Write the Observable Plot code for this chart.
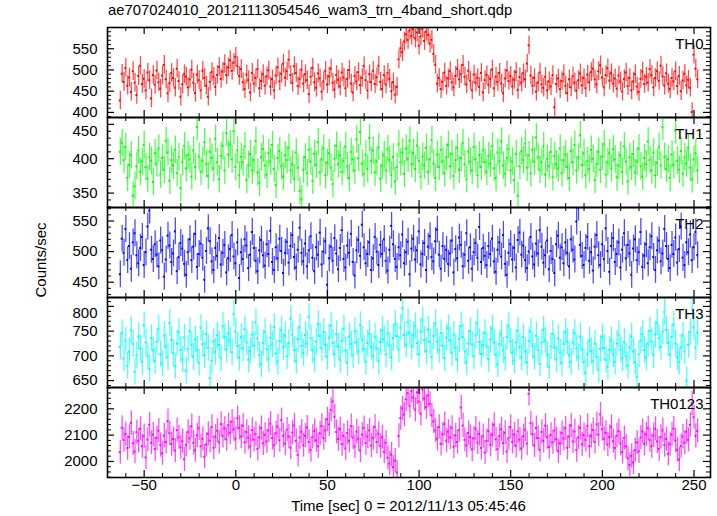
<!DOCTYPE html>
<html><head><meta charset="utf-8">
<script src="https://cdn.jsdelivr.net/npm/d3@7"></script>
<script src="https://cdn.jsdelivr.net/npm/@observablehq/plot@0.6"></script>
<style>
body{margin:0;background:#fff;}
#chart{position:relative;width:717px;height:516px;overflow:hidden;font-family:"Liberation Sans",Arial,Helvetica,sans-serif;color:#000;}
#chart .title{position:absolute;left:108px;top:2px;font-size:14.8px;white-space:nowrap;}
#chart .xlab{position:absolute;left:107px;width:603px;top:497px;text-align:center;font-size:15px;white-space:nowrap;}
#chart .ylab{position:absolute;left:40px;top:260px;font-size:15px;white-space:nowrap;transform:translate(-50%,-50%) rotate(-90deg);}
#chart svg{position:absolute;left:0;}
</style></head><body><div id="chart"></div>
<script>
const title = "ae707024010_20121113054546_wam3_trn_4band_short.qdp";
const xLabel = "Time [sec] 0 = 2012/11/13 05:45:46";
const yLabel = "Counts/sec";
const panelNames = ["TH0", "TH1", "TH2", "TH3", "TH0123"];
const t0 = -63;      // centre of first 1-s bin
const binWidth = 1;  // seconds

const th0 = [
428,491,472,505,463,482,448,497,470,441,486,510,467,479,452,494,476,433,488,465,
499,471,456,487,512,478,445,469,493,481,458,503,474,437,466,490,484,459,478,501,
470,446,489,476,452,498,481,463,437,472,495,484,460,488,507,479,496,514,488,506,
523,498,517,531,509,486,502,471,455,489,476,447,493,468,481,502,457,474,490,463,
485,499,461,478,452,487,506,473,491,515,482,497,524,488,470,509,493,462,479,501,
468,490,476,443,484,505,471,458,492,480,449,473,498,466,485,503,470,454,488,477,
461,494,482,457,479,500,468,447,486,473,495,464,481,509,476,452,490,471,498,467,
483,510,472,455,488,466,493,479,450,471,442,460,525,551,542,567,584,571,593,580,
596,574,588,557,579,597,568,590,583,562,571,538,512,468,481,455,472,494,463,480,
497,471,459,486,503,478,490,512,484,466,498,475,452,489,470,481,460,493,447,476,
488,465,479,501,457,484,472,493,468,445,480,499,474,486,461,477,495,453,483,470,
492,478,515,558,487,463,481,449,470,494,466,458,484,452,473,461,488,412,467,480,
455,474,490,463,446,478,459,485,470,451,476,492,464,481,457,489,471,495,503,478,
466,497,511,482,459,488,504,475,492,468,480,456,487,473,449,478,494,462,481,452,
473,490,461,448,479,496,467,484,470,502,488,459,481,497,474,510,485,463,492,468,
455,481,473,497,462,486,450,475,491,464,477,458,401,536,503,478];

const th1 = [
410,423,398,417,372,391,405,346,360,389,412,381,396,420,388,371,402,397,366,408,
393,415,377,401,384,426,409,368,398,390,413,379,402,357,395,418,386,405,399,374,
412,388,446,403,381,397,424,392,375,410,401,386,429,395,370,404,419,383,437,406,
421,399,440,388,412,376,403,395,418,369,391,407,383,398,426,380,365,402,414,390,
377,408,396,420,385,362,401,411,389,374,405,398,416,383,392,371,409,387,353,341,
384,402,379,413,396,368,407,391,424,380,399,415,376,394,408,387,363,400,419,392,
405,381,397,418,389,372,410,399,383,428,401,439,393,378,406,385,430,397,412,380,
396,417,371,390,405,383,414,398,376,402,367,388,421,395,409,378,415,400,426,392,
408,385,419,397,374,403,390,416,381,399,427,393,372,406,388,413,396,379,402,420,
389,407,375,398,416,384,401,423,392,370,410,396,383,417,399,376,405,388,412,395,
381,404,393,418,386,372,409,397,425,390,378,401,414,383,396,369,407,346,389,411,
398,422,387,405,379,413,396,431,402,384,395,418,377,400,389,410,373,404,392,386,
415,379,398,406,388,372,411,395,420,383,402,434,391,408,376,397,385,413,400,369,
392,410,384,403,421,377,395,408,386,414,399,373,390,405,381,418,396,367,402,388,
407,380,396,415,389,374,401,392,425,398,383,409,376,394,417,390,446,403,385,399,
372,406,391,441,397,384,411,378,402,393,416,387,370,399,408,383];

const th2 = [
463,521,498,537,486,509,472,515,530,494,481,506,524,478,499,541,567,503,488,512,
495,476,518,502,459,487,526,510,483,497,533,468,491,514,505,480,462,499,520,486,
508,529,475,496,513,490,454,501,538,517,484,470,506,493,522,479,498,511,466,489,
504,527,492,481,515,457,499,488,520,510,473,495,532,506,485,468,502,519,494,477,
512,496,534,483,470,507,489,521,501,465,498,516,482,509,527,491,474,503,539,498,
484,513,476,502,525,490,468,507,495,531,479,500,517,446,489,508,485,522,497,471,
506,535,488,474,510,498,529,483,461,502,519,493,544,507,481,496,515,470,489,524,
500,478,511,496,520,485,469,503,542,512,488,475,507,494,528,481,499,516,463,505,
521,487,502,533,479,496,514,470,508,525,491,484,517,536,495,472,509,488,503,480,
497,518,466,504,489,523,511,476,495,530,485,507,472,499,514,490,540,483,506,493,
478,509,496,521,484,467,503,515,492,527,480,462,498,512,487,506,474,519,531,495,
510,486,473,500,524,492,479,513,497,535,508,482,494,518,471,501,488,465,512,526,
490,507,481,515,498,476,520,503,487,549,572,511,493,478,506,524,485,499,469,508,
527,494,478,512,488,538,501,467,509,522,483,496,515,474,503,530,489,511,497,462,
505,520,486,499,532,475,493,512,481,507,525,491,470,502,518,484,497,537,509,488,
473,511,496,523,482,504,541,490,478,515,499,528,486,507,532,494];

const th3 = [
718,746,695,731,680,709,752,724,668,701,739,715,688,762,727,699,674,736,711,690,
728,755,703,684,741,719,697,766,732,706,679,725,748,712,693,737,670,714,750,722,
698,733,712,686,757,724,701,744,716,655,690,729,708,741,722,695,760,738,713,745,
731,707,785,749,720,696,738,715,754,727,692,710,743,721,768,735,702,683,726,748,
714,694,737,723,758,705,689,730,752,718,741,699,726,775,743,712,690,734,757,720,
706,742,725,779,736,711,693,729,764,740,715,748,722,698,737,761,726,703,744,719,
692,730,755,711,686,739,724,701,750,727,709,762,733,714,688,726,745,718,700,738,
715,689,728,752,734,703,745,721,697,736,764,740,713,757,796,742,723,768,747,719,
741,760,726,703,749,772,732,710,753,728,698,740,766,729,712,746,720,695,737,756,
731,706,743,716,692,734,761,738,709,687,725,750,723,699,741,767,728,704,722,746,
719,693,733,755,727,702,683,724,744,711,696,738,760,729,707,690,727,751,718,697,
738,709,687,730,749,720,698,741,712,684,727,753,731,702,678,719,744,716,693,735,
707,686,724,748,729,701,688,727,746,715,697,739,713,687,665,703,731,710,689,725,
698,672,714,738,716,692,678,712,731,703,688,725,743,713,695,728,699,680,717,739,
709,687,658,703,731,744,712,697,725,751,729,702,743,767,736,718,749,789,753,726,
702,738,763,725,697,688,717,741,709,650,722,748,816,758,717,747];

const th0123 = [
2035,2128,2082,2104,2051,2093,2146,2069,2037,2111,2078,2124,2058,2096,2015,2083,2139,2071,2102,2047,
2089,2117,2062,2031,2098,2074,2153,2107,2066,2085,2041,2119,2092,2054,2077,2008,2063,2112,2088,2134,
2071,2043,2099,2126,2058,2086,2018,2064,2105,2079,2131,2052,2094,2117,2073,2142,2097,2125,2084,2138,
2109,2151,2122,2087,2164,2128,2095,2136,2073,2112,2090,2057,2119,2083,2104,2048,2092,2127,2069,2101,
2076,2118,2143,2089,2061,2107,2132,2081,2157,2099,2068,2121,2094,2052,2110,2137,2078,2025,2091,2113,
2062,2098,2129,2074,2044,2093,2116,2081,2058,2107,2135,2089,2118,2160,2141,2196,2228,2170,2112,2085,
2123,2066,2097,2049,2108,2079,2134,2091,2057,2113,2086,2042,2102,2127,2070,2095,2118,2061,2089,2131,
2074,2105,2058,2092,2037,2071,2014,1992,2026,1978,2003,1958,2097,2165,2202,2178,2236,2259,2211,2268,
2243,2197,2262,2228,2181,2273,2239,2206,2251,2219,2175,2152,2118,2086,2131,2067,2104,2142,2079,2113,
2091,2128,2056,2099,2074,2119,2205,2137,2082,2061,2108,2093,2046,2087,2125,2072,2104,2051,2096,2034,
2078,2116,2063,2101,2139,2084,2047,2097,2122,2070,2109,2038,2088,2131,2075,2102,2059,2114,2083,2049,
2096,2121,2068,2257,2145,2103,2061,2127,2089,2044,2112,2078,2136,2092,2055,2101,2073,2118,2084,2039,
2069,2108,2087,2126,2052,2095,2137,2076,2114,2043,2091,2128,2065,2100,2082,2135,2058,2097,2119,2074,
2141,2102,2178,2123,2086,2109,2064,2093,2132,2077,2051,2098,2115,2068,2036,2089,2057,2012,1987,2021,
1996,2043,2072,2038,2091,2114,2067,2103,2126,2081,2058,2099,2124,2076,2047,2093,2118,2062,2085,2029,
2066,2102,2125,2079,2044,2007,2058,2094,2071,2113,2082,2139,2221,2168,2097,2116];

const errors = [22, 20, 22, 27, 46];   // typical 1-sigma error per 1-s bin (counts/sec)
const series = [th0, th1, th2, th3, th0123];
const colors = ["#ff0000", "#00ff00", "#0000ff", "#00ffff", "#ff00ff"];

const xDomain = [-70, 259];
const xMajor = [-50, 0, 50, 100, 150, 200, 250];
const xMajorLabels = ["\u221250", "0", "50", "100", "150", "200", "250"];
const xMinorStep = 10;

const yDomains = [[388, 600], [329, 460], [425, 572], [636, 818], [1939, 2281]];
const yMajor = [[400, 450, 500, 550], [350, 400, 450], [450, 500, 550], [650, 700, 750, 800], [2000, 2100, 2200]];
const yMinorStep = [10, 10, 10, 10, 20];

// ---- layout ----
const W = 717, mL = 107, mR = 7, panelH = 90, top0 = 27;
const frameW = W - mL - mR;
const chart = document.getElementById("chart");

const tdiv = document.createElement("div"); tdiv.className = "title"; tdiv.textContent = title; chart.appendChild(tdiv);

const xMinor = d3.range(Math.ceil(xDomain[0] / xMinorStep) * xMinorStep, xDomain[1] + 0.001, xMinorStep).filter(v => !xMajor.includes(v));

series.forEach((vals, i) => {
  const last = i === series.length - 1;
  const data = vals.map((v, j) => ({t: t0 + j * binWidth, v, e: errors[i]}));
  const [lo, hi] = yDomains[i];
  const yMin = d3.range(Math.ceil(lo / yMinorStep[i]) * yMinorStep[i], hi + 0.001, yMinorStep[i]).filter(v => !yMajor[i].includes(v));
  const col = colors[i];
  const mB = last ? 40 : 1;
  const H = panelH + 1 + mB;
  const tk = (n) => frameW - n;
  // a tick label too close to the panel top is drawn a little lower, as in the original
  const nearTop = (d) => (hi - d) / (hi - lo) * panelH < 9;
  const marks = [
    Plot.ruleX(data, {x: "t", y1: d => d.v - d.e, y2: d => d.v + d.e, stroke: col, strokeOpacity: 0.7, strokeWidth: 1.3, clip: true}),
    Plot.ruleY(data, {y: "v", x1: d => d.t - binWidth / 2, x2: d => d.t + binWidth / 2, stroke: col, strokeWidth: 2, clip: true}),
    Plot.tickX(xMajor, {x: d => d, stroke: "#000", strokeWidth: 1.2, insetTop: panelH - 7}),
    Plot.tickX(xMajor, {x: d => d, stroke: "#000", strokeWidth: 1.2, insetBottom: panelH - 7}),
    Plot.tickX(xMinor, {x: d => d, stroke: "#000", strokeWidth: 1, insetTop: panelH - 4}),
    Plot.tickX(xMinor, {x: d => d, stroke: "#000", strokeWidth: 1, insetBottom: panelH - 4}),
    Plot.tickY(yMajor[i], {y: d => d, stroke: "#000", strokeWidth: 1.2, insetRight: tk(7)}),
    Plot.tickY(yMajor[i], {y: d => d, stroke: "#000", strokeWidth: 1.2, insetLeft: tk(7)}),
    Plot.tickY(yMin, {y: d => d, stroke: "#000", strokeWidth: 1, insetRight: tk(4)}),
    Plot.tickY(yMin, {y: d => d, stroke: "#000", strokeWidth: 1, insetLeft: tk(4)}),
    Plot.frame({stroke: "#000", strokeWidth: 1.6}),
    Plot.text(yMajor[i].filter(d => !nearTop(d)), {y: d => d, text: d => String(d), frameAnchor: "left", textAnchor: "end", dx: -10, fontSize: 15, fill: "#000"}),
    Plot.text(yMajor[i].filter(d => nearTop(d)), {y: d => d, text: d => String(d), frameAnchor: "left", textAnchor: "end", dx: -10, dy: 7, fontSize: 15, fill: "#000"}),
    Plot.text([panelNames[i]], {text: d => d, frameAnchor: "top-right", textAnchor: "end", dx: -7, dy: 11, fontSize: 15, fill: "#000"})
  ];
  if (last) {
    marks.push(Plot.text(xMajor, {x: d => d, text: (d, k) => xMajorLabels[k], frameAnchor: "bottom", dy: 12, fontSize: 15, fill: "#000"}));
  }
  const svg = Plot.plot({
    width: W, height: H,
    marginLeft: mL, marginRight: mR, marginTop: 1, marginBottom: mB,
    x: {domain: xDomain, axis: null},
    y: {domain: yDomains[i], axis: null},
    style: {background: "transparent", fontFamily: "'Liberation Sans', Arial, Helvetica, sans-serif", overflow: "visible"},
    marks
  });
  svg.style.top = (top0 + panelH * i - 1) + "px";
  chart.appendChild(svg);
});

const xl = document.createElement("div"); xl.className = "xlab"; xl.textContent = xLabel; chart.appendChild(xl);
const yl = document.createElement("div"); yl.className = "ylab"; yl.textContent = yLabel; chart.appendChild(yl);
</script></body></html>
